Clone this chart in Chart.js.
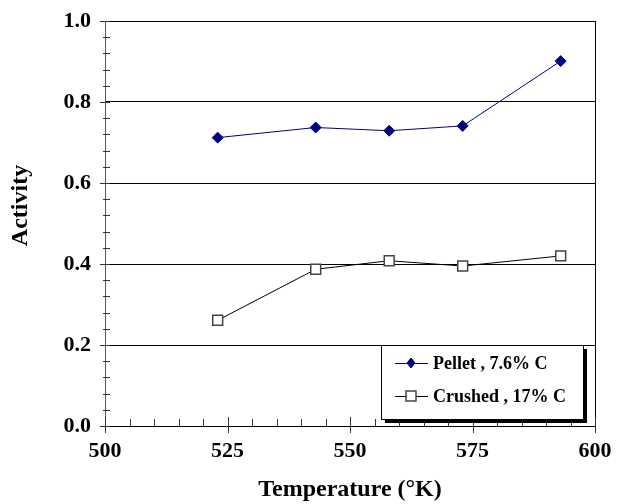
<!DOCTYPE html>
<html>
<head>
<meta charset="utf-8">
<script src="https://cdn.jsdelivr.net/npm/chart.js"></script>
<style>
  body { margin: 0; background: #fff; }
  #wrap { width: 617px; height: 504px; }
</style>
</head>
<body>
<div id="wrap"><canvas id="myChart" width="617" height="504"></canvas></div>
<script>
// values
const temps = [523, 543, 558, 573, 593];
const pellet = [0.712, 0.737, 0.729, 0.741, 0.901];
const crushed = [0.261, 0.387, 0.408, 0.395, 0.420];
const seriesNames = ['Pellet , 7.6% C', 'Crushed , 17% C'];

const serif = "'Liberation Serif', 'Times New Roman', serif";

const toPoints = (xs, ys) => xs.map((x, i) => ({ x: x, y: ys[i] }));

// short minor ticks + crossing major ticks, like the old excel plot
const tickMarks = {
  id: 'tickMarks',
  afterDatasetsDraw(chart) {
    const ctx = chart.ctx;
    const xs = chart.scales.x, ys = chart.scales.y;
    const area = chart.chartArea;
    ctx.save();
    ctx.strokeStyle = '#333';
    ctx.lineWidth = 1;
    ctx.beginPath();
    for (let i = 0; i <= 25; i++) {
      const py = Math.round(ys.getPixelForValue(i * 0.04)) + 0.5;
      const x0 = i % 5 === 0 ? area.left - 5 : area.left - 2;
      ctx.moveTo(x0, py);
      ctx.lineTo(area.left + 5, py);
    }
    for (let i = 0; i <= 20; i++) {
      const px = Math.round(xs.getPixelForValue(500 + i * 5)) + 0.5;
      if (i % 5 === 0) {
        ctx.moveTo(px, area.bottom - 9);
        ctx.lineTo(px, area.bottom + 7);
      } else {
        ctx.moveTo(px, area.bottom - 7);
        ctx.lineTo(px, area.bottom);
      }
    }
    ctx.stroke();
    ctx.restore();
  }
};

// boxed legend with drop shadow, sitting on the 0.2 line
const boxLegend = {
  id: 'boxLegend',
  afterDraw(chart) {
    const ctx = chart.ctx;
    const area = chart.chartArea;
    const w = 202, h = 74;
    const left = Math.round(area.right - 214);
    const top = Math.round(chart.scales.y.getPixelForValue(0.2));
    ctx.save();
    ctx.fillStyle = '#000';
    ctx.fillRect(left + 4, top + 4, w, h);
    ctx.fillStyle = '#fff';
    ctx.fillRect(left, top, w, h);
    ctx.strokeStyle = '#000';
    ctx.lineWidth = 1;
    ctx.strokeRect(left + 0.5, top + 0.5, w, h);

    ctx.font = 'bold 18px ' + serif;
    ctx.textBaseline = 'middle';
    chart.data.datasets.forEach((ds, i) => {
      const cy = top + 18 + i * 33;
      const cx = left + 30;
      ctx.strokeStyle = ds.borderColor;
      ctx.lineWidth = 1;
      ctx.beginPath();
      ctx.moveTo(left + 14, cy + 0.5);
      ctx.lineTo(left + 47, cy + 0.5);
      ctx.stroke();
      ctx.fillStyle = ds.pointBackgroundColor;
      ctx.strokeStyle = ds.pointBorderColor;
      ctx.lineWidth = ds.pointBorderWidth;
      ctx.beginPath();
      if (ds.pointStyle === 'rectRot') {
        ctx.moveTo(cx, cy - 5);
        ctx.lineTo(cx + 4, cy);
        ctx.lineTo(cx, cy + 5);
        ctx.lineTo(cx - 4, cy);
        ctx.closePath();
      } else {
        ctx.rect(cx - 5, cy - 5, 10, 10);
      }
      ctx.fill();
      ctx.stroke();
      ctx.fillStyle = '#000';
      ctx.fillText(ds.label, left + 52, cy + 1);
    });
    ctx.restore();
  }
};

const ctx = document.getElementById('myChart').getContext('2d');
const myChart = new Chart(ctx, {
  type: 'line',
  data: {
    datasets: [{
      label: seriesNames[0],
      data: toPoints(temps, pellet),
      borderColor: '#000080',
      borderWidth: 1,
      pointStyle: 'rectRot',
      pointRadius: 5.5,
      pointBackgroundColor: '#000080',
      pointBorderColor: '#000080',
      pointBorderWidth: 1
    }, {
      label: seriesNames[1],
      data: toPoints(temps, crushed),
      borderColor: '#000',
      borderWidth: 1,
      pointStyle: 'rect',
      pointRadius: 7,
      pointBackgroundColor: '#fff',
      pointBorderColor: '#444',
      pointBorderWidth: 1.5
    }]
  },
  options: {
    responsive: false,
    animation: false,
    layout: { padding: { top: 21, right: 22, left: 0, bottom: 0 } },
    plugins: {
      legend: { display: false },
      tooltip: { enabled: false }
    },
    scales: {
      x: {
        type: 'linear',
        min: 500,
        max: 600,
        afterFit: s => { s.height = 78; s.paddingLeft = 0; s.paddingRight = 0; },
        ticks: {
          stepSize: 25,
          padding: 12,
          color: '#000',
          font: { family: serif, size: 22, weight: 'bold' }
        },
        grid: {
          drawTicks: false,
          color: c => (c.tick && c.tick.value === 600 ? '#000' : 'rgba(0,0,0,0)')
        },
        border: { color: '#000', width: 1 },
        title: {
          display: true,
          text: 'Temperature (°K)',
          color: '#000',
          padding: { top: 0, bottom: 0 },
          font: { family: serif, size: 24, weight: 'bold' }
        }
      },
      y: {
        min: 0,
        max: 1,
        afterFit: s => { s.width = 105; s.paddingTop = 0; s.paddingBottom = 0; },
        ticks: {
          stepSize: 0.2,
          padding: 14,
          color: '#000',
          font: { family: serif, size: 22, weight: 'bold' },
          callback: v => v.toFixed(1)
        },
        grid: { drawTicks: false, color: '#000', lineWidth: 1 },
        border: { color: '#555', width: 1 },
        title: {
          display: true,
          text: '      Activity',
          color: '#000',
          padding: { top: 6, bottom: 0 },
          font: { family: serif, size: 24, weight: 'bold' }
        }
      }
    }
  },
  plugins: [tickMarks, boxLegend]
});
</script>
</body>
</html>
